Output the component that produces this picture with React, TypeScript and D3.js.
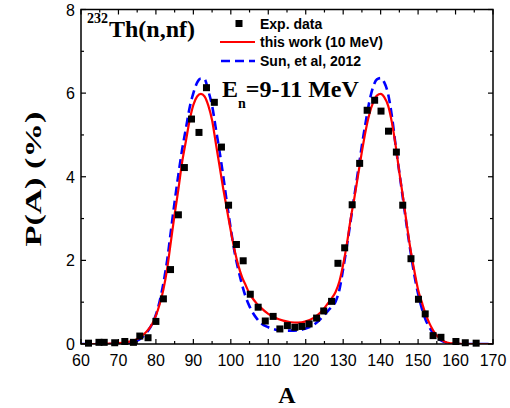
import React from "react";
import * as d3 from "d3";

// experimental points (A, yield %)
const expA = [62, 64.8, 66.2, 69, 71.7, 74, 75.7, 77.9, 80, 82, 83.9, 86, 87.6, 89.5, 91.5, 93.5, 95.6, 97.5, 99.4, 101.5, 103.3, 105.2, 107.3, 109.2, 111.3, 113.1, 115.1, 117.1, 119, 120.9, 122.9, 124.8, 126.9, 128.6, 130.4, 132.4, 134.4, 136.4, 138.4, 140.1, 142.1, 144.2, 145.9, 148.1, 150.1, 151.9, 154, 156.1, 160.1, 162.6, 165.5];
const expP = [0.02, 0.04, 0.04, 0.03, 0.06, 0.04, 0.19, 0.15, 0.54, 1.08, 1.78, 3.09, 4.22, 5.38, 5.06, 6.13, 5.78, 4.71, 3.32, 2.38, 1.99, 1.19, 0.88, 0.55, 0.66, 0.36, 0.44, 0.4, 0.42, 0.48, 0.62, 0.79, 1.02, 1.93, 2.3, 3.33, 4.32, 5.59, 5.83, 5.57, 5.09, 4.59, 3.32, 2.04, 1.07, 0.72, 0.2, 0.16, 0.06, 0.03, 0.02];

// mass grid shared by both calculations
const curveA = [60, 64, 68, 70, 72, 74,
  75, 76, 77, 78, 79, 80, 81, 82, 83, 84,
  85, 86, 87, 88, 89, 90, 91, 92, 93, 94,
  95, 96, 97, 98, 99, 100, 101, 102, 103, 104,
  105, 106, 107, 108,
  110, 112, 114, 116, 118, 120, 122, 124,
  125, 126, 127, 128, 129, 130, 131, 132, 133, 134,
  135, 136, 137, 138, 139, 140, 141, 142, 143, 144,
  145, 146, 147, 148, 149, 150, 151, 152, 153, 154,
  155, 156, 157, 158,
  160, 162, 166, 170];

// this work (10 MeV)
const workP = [0, 0, 0.01, 0.02, 0.04, 0.08,
  0.12, 0.17, 0.25, 0.35, 0.48, 0.68, 0.95, 1.3, 1.8, 2.45,
  3.1, 3.7, 4.35, 4.85, 5.35, 5.72, 5.92, 5.98, 5.92, 5.7,
  5.35, 4.8, 4.25, 3.7, 3.2, 2.7, 2.25, 1.88, 1.6, 1.4,
  1.2, 1.07, 0.96, 0.87,
  0.72, 0.62, 0.56, 0.52, 0.51, 0.54, 0.62, 0.76,
  0.86, 0.98, 1.1, 1.25, 1.5, 1.9, 2.4, 3.0, 3.5, 4.05,
  4.6, 5.1, 5.5, 5.78, 5.94, 5.98, 5.9, 5.7, 5.3, 4.75,
  4.1, 3.5, 2.85, 2.25, 1.75, 1.3, 1.0, 0.72, 0.5, 0.33,
  0.2, 0.12, 0.06, 0.03,
  0.01, 0, 0, 0];

// Sun, et al, 2012
const sunP = [0, 0, 0, 0, 0.01, 0.04,
  0.08, 0.14, 0.22, 0.33, 0.48, 0.7, 1.02, 1.45, 2.0, 2.7,
  3.4, 4.05, 4.65, 5.15, 5.65, 6.0, 6.25, 6.35, 6.33, 6.05,
  5.7, 5.15, 4.6, 4.0, 3.35, 2.75, 2.2, 1.78, 1.42, 1.12,
  0.9, 0.73, 0.6, 0.5,
  0.4, 0.34, 0.32, 0.32, 0.33, 0.37, 0.45, 0.6,
  0.7, 0.8, 0.9, 1.02, 1.3, 1.8, 2.35, 2.95, 3.55, 4.15,
  4.75, 5.3, 5.8, 6.15, 6.33, 6.36, 6.25, 5.98, 5.45, 4.75,
  4.1, 3.45, 2.8, 2.2, 1.65, 1.2, 0.85, 0.58, 0.4, 0.26,
  0.16, 0.09, 0.05, 0.02,
  0, 0, 0, 0];

const xTicks = [60, 70, 80, 90, 100, 110, 120, 130, 140, 150, 160, 170];
const yTicks = [0, 2, 4, 6, 8];

const sans = "'Liberation Sans', Arial, sans-serif";
const serif = "'Liberation Serif', 'Times New Roman', serif";

export default function App() {
  const left = 81, right = 493, top = 9.5, bottom = 344;

  const x = d3.scaleLinear().domain([60, 170]).range([left, right]);
  const y = d3.scaleLinear().domain([0, 8]).range([bottom, top]);

  const line = d3.line<number>()
    .x((d, i) => x(curveA[i]))
    .y(d => y(d))
    .curve(d3.curveMonotoneX);

  const xMinor = d3.range(65, 170, 10);
  const yMinor = d3.range(1, 8, 2);

  return (
    <svg width={510} height={408} style={{ position: "absolute", left: 0, top: 0 }}>
      <rect width={510} height={408} fill="#fff" />
      <defs>
        <clipPath id="plot">
          <rect x={left} y={top} width={right - left} height={bottom - top} />
        </clipPath>
      </defs>

      {/* calculations */}
      <g clipPath="url(#plot)">
        <path d={line(sunP) || ""} fill="none" stroke="#0000ff" strokeWidth={2.6} strokeDasharray="9,5" />
        <path d={line(workP) || ""} fill="none" stroke="#ff0000" strokeWidth={2.2} />
      </g>

      {/* experimental data */}
      {expA.map((a, i) => (
        <rect key={i} x={x(a) - 3.5} y={y(expP[i]) - 3.5} width={7} height={7} fill="#000" />
      ))}

      {/* frame + ticks */}
      <rect x={left} y={top} width={right - left} height={bottom - top} fill="none" stroke="#000" strokeWidth={1.5} />
      <g stroke="#000" strokeWidth={1.2}>
        {xTicks.map(t => (
          <g key={"x" + t}>
            <line x1={x(t)} x2={x(t)} y1={bottom} y2={bottom - 5} />
            <line x1={x(t)} x2={x(t)} y1={top} y2={top + 5} />
          </g>
        ))}
        {xMinor.map(t => (
          <g key={"xm" + t}>
            <line x1={x(t)} x2={x(t)} y1={bottom} y2={bottom - 3} />
            <line x1={x(t)} x2={x(t)} y1={top} y2={top + 3} />
          </g>
        ))}
        {yTicks.map(t => (
          <g key={"y" + t}>
            <line x1={left} x2={left + 5} y1={y(t)} y2={y(t)} />
            <line x1={right} x2={right - 5} y1={y(t)} y2={y(t)} />
          </g>
        ))}
        {yMinor.map(t => (
          <g key={"ym" + t}>
            <line x1={left} x2={left + 3} y1={y(t)} y2={y(t)} />
            <line x1={right} x2={right - 3} y1={y(t)} y2={y(t)} />
          </g>
        ))}
      </g>

      {/* tick labels */}
      <g fontFamily={sans} fontSize={16} fill="#000">
        {xTicks.map(t => (
          <text key={t} x={x(t)} y={366} textAnchor="middle">{t}</text>
        ))}
        {yTicks.map(t => (
          <text key={t} x={75} y={y(t) + 6} textAnchor="end">{t}</text>
        ))}
      </g>

      {/* axis titles */}
      <text x={287} y={403} textAnchor="middle" fontFamily={serif} fontWeight="bold" fontSize={24}>A</text>
      <text transform="translate(41,179) rotate(-90)" textAnchor="middle" fontFamily={serif}
        fontWeight="bold" fontSize={24} textLength={135} lengthAdjust="spacingAndGlyphs">P(A) (%)</text>

      {/* annotations */}
      <text fontFamily={serif} fontWeight="bold" fill="#000">
        <tspan x={87} y={23} fontSize={14}>232</tspan>
        <tspan x={109} y={37} fontSize={24}>Th(n,nf)</tspan>
      </text>
      <text fontFamily={serif} fontWeight="bold" fill="#000" fontSize={24}>
        <tspan x={222} y={97}>E</tspan>
        <tspan fontSize={14} dy={11}>n</tspan>
        <tspan dy={-11}>=9-11 MeV</tspan>
      </text>

      {/* legend */}
      <rect x={235.5} y={20} width={7} height={7} fill="#000" />
      <line x1={220} x2={255} y1={42} y2={42} stroke="#ff0000" strokeWidth={2.2} />
      <line x1={221} x2={255} y1={61} y2={61} stroke="#0000ff" strokeWidth={2.6} strokeDasharray="9,5" />
      <g fontFamily={sans} fontWeight="bold" fontSize={14} fill="#000">
        <text x={260} y={29}>Exp. data</text>
        <text x={260} y={47}>this work (10 MeV)</text>
        <text x={260} y={66}>Sun, et al, 2012</text>
      </g>
    </svg>
  );
}
